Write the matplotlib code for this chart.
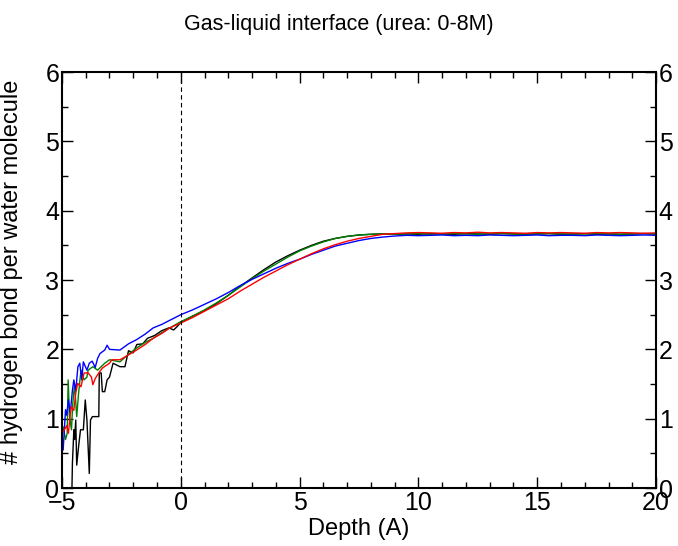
import matplotlib
matplotlib.use("Agg")
import matplotlib.pyplot as plt
from matplotlib.ticker import MultipleLocator

plt.rcParams['font.family'] = ['Liberation Sans', 'DejaVu Sans']

title = "Gas-liquid interface (urea: 0-8M)"
xlabel = "Depth (A)"
ylabel = "# hydrogen bond per water molecule"

plateau_x = [9.5, 10, 10.5, 11, 11.5, 12, 12.5, 13, 13.5, 14, 14.5, 15, 15.5, 16,
             16.5, 17, 17.5, 18, 18.5, 19, 19.5, 20]

# black series
black_x = [-4.58, -4.56, -4.5, -4.47, -4.42, -4.38, -4.3, -4.22, -4.1, -4.02, -3.95, -3.9,
           -3.85, -3.8, -3.72, -3.6, -3.45, -3.43, -3.35, -3.3, -3.2, -3.1, -3.0, -2.85,
           -2.56, -2.35, -2.2, -2.0, -1.85, -1.6, -1.4, -1.1, -0.8, -0.5, -0.3, -0.15, 0.0,
           0.5, 1.0, 1.5, 2.0, 2.5, 3.0, 3.5, 4.0, 4.5, 5.0, 5.5, 6.0, 6.5, 7.0, 7.5, 8.0, 8.5, 9.0] + plateau_x
black_y = [0.0, 0.36, 0.84, 0.7, 0.98, 0.33, 0.6, 0.84, 0.84, 1.27, 0.98, 0.6,
           0.21, 0.98, 1.03, 1.03, 1.03, 1.66, 1.66, 1.39, 1.39, 1.56, 1.6, 1.8,
           1.75, 1.75, 1.98, 1.95, 2.07, 2.08, 2.16, 2.2, 2.27, 2.31, 2.28, 2.33, 2.39,
           2.48, 2.56, 2.66, 2.78, 2.91, 3.03, 3.15, 3.26, 3.35, 3.43, 3.5, 3.56, 3.6, 3.63, 3.65, 3.66, 3.665, 3.66,
           3.665, 3.66, 3.67, 3.665, 3.66, 3.67, 3.665, 3.66, 3.67, 3.665, 3.66, 3.665, 3.67, 3.66, 3.665,
           3.67, 3.66, 3.665, 3.66, 3.665, 3.67, 3.665]

# green series
green_x = [-4.95, -4.85, -4.78, -4.74, -4.68, -4.6, -4.55, -4.47, -4.38, -4.3, -4.2, -4.07,
           -3.95, -3.9, -3.7, -3.5, -3.2, -3.0, -2.56, -2.2, -1.86, -1.5, -1.16, -0.8,
           -0.46, 0.0, 0.5, 1.0, 1.5, 2.0, 2.5, 3.0, 3.5, 4.0, 4.5, 5.0, 5.5, 6.0, 6.5,
           7.0, 7.5, 8.0, 8.5, 9.0] + plateau_x
green_y = [0.88, 0.7, 0.79, 1.56, 1.03, 0.84, 1.2, 1.5, 1.03, 1.37, 1.7, 1.56,
           1.6, 1.7, 1.75, 1.7, 1.8, 1.85, 1.82, 1.93, 2.02, 2.1, 2.16, 2.24,
           2.31, 2.40, 2.48, 2.57, 2.67, 2.78, 2.90, 3.02, 3.13, 3.23, 3.33, 3.42, 3.49, 3.55, 3.60,
           3.63, 3.65, 3.66, 3.665, 3.66,
           3.665, 3.67, 3.66, 3.665, 3.67, 3.665, 3.66, 3.665, 3.67, 3.665, 3.66, 3.665, 3.67, 3.665, 3.66,
           3.665, 3.67, 3.665, 3.66, 3.665, 3.67, 3.665]

# blue series
blue_x = [-4.95, -4.85, -4.8, -4.73, -4.65, -4.56, -4.5, -4.42, -4.33, -4.25, -4.17, -4.1,
          -3.95, -3.85, -3.73, -3.6, -3.5, -3.4, -3.2, -3.1, -3.0, -2.56, -2.2, -1.86,
          -1.5, -1.16, -0.8, -0.46, 0.0, 0.5, 1.0, 1.5, 2.0, 2.5, 3.0, 3.5, 4.0, 4.5,
          5.0, 5.5, 6.0, 6.5, 7.0, 7.5, 8.0, 8.5, 9.0] + plateau_x
blue_y = [0.55, 1.13, 1.05, 1.27, 1.08, 1.41, 1.56, 1.4, 1.75, 1.8, 1.56, 1.82,
          1.7, 1.8, 1.83, 1.74, 1.87, 1.94, 1.99, 2.06, 2.0, 1.99, 2.08, 2.14,
          2.22, 2.31, 2.36, 2.42, 2.50, 2.57, 2.65, 2.73, 2.82, 2.92, 3.01, 3.09, 3.17, 3.24,
          3.30, 3.37, 3.43, 3.49, 3.53, 3.57, 3.60, 3.62, 3.635,
          3.645, 3.64, 3.645, 3.65, 3.64, 3.645, 3.64, 3.65, 3.645, 3.64, 3.645, 3.65, 3.64, 3.645,
          3.645, 3.64, 3.65, 3.645, 3.64, 3.645, 3.65, 3.645]

# red series
red_x = [-5.0, -4.9, -4.8, -4.73, -4.62, -4.5, -4.42, -4.34, -4.2, -4.07, -3.9, -3.76,
         -3.7, -3.6, -3.45, -3.3, -3.0, -2.9, -2.56, -2.2, -1.86, -1.5, -1.16, -0.8,
         -0.46, 0.0, 0.5, 1.0, 1.5, 2.0, 2.5, 3.0, 3.5, 4.0, 4.5, 5.0, 5.5, 6.0, 6.5,
         7.0, 7.5, 8.0, 8.5, 9.0] + plateau_x
red_y = [0.79, 0.84, 0.9, 0.79, 1.17, 1.12, 1.37, 1.51, 1.46, 1.66, 1.66, 1.6,
         1.49, 1.58, 1.66, 1.73, 1.8, 1.85, 1.85, 1.92, 1.99, 2.07, 2.16, 2.23,
         2.31, 2.38, 2.46, 2.55, 2.64, 2.73, 2.84, 2.94, 3.04, 3.13, 3.22, 3.30, 3.38, 3.45, 3.51,
         3.56, 3.60, 3.63, 3.66, 3.67,
         3.68, 3.685, 3.68, 3.675, 3.685, 3.68, 3.69, 3.68, 3.685, 3.68, 3.675, 3.685, 3.68, 3.685,
         3.68, 3.675, 3.685, 3.68, 3.685, 3.68, 3.675, 3.68]

fig = plt.figure(figsize=(6.78, 5.46), dpi=100)
ax = fig.add_axes([0.0914, 0.1062, 0.8762, 0.7618])

ax.plot(black_x, black_y, color='black', lw=1.0)
ax.plot(green_x, green_y, color='green', lw=1.0)
ax.plot(blue_x, blue_y, color='blue', lw=1.0)
ax.plot(red_x, red_y, color='red', lw=1.0)
ax.axvline(0, color='black', lw=0.8, ls=(0, (4, 3)))

ax.set_xlim(-5, 20)
ax.set_ylim(0, 6)
ax.xaxis.set_major_locator(MultipleLocator(5))
ax.xaxis.set_minor_locator(MultipleLocator(1))
ax.yaxis.set_major_locator(MultipleLocator(1))
ax.yaxis.set_minor_locator(MultipleLocator(0.5))
ax.tick_params(which='both', direction='in', top=True, right=True,
               labelright=True, labelsize=18, width=1.0)
ax.tick_params(which='major', length=8, pad=2)
ax.tick_params(which='minor', length=4)
for s in ax.spines.values():
    s.set_linewidth(1.5)

ax.set_xlabel(xlabel, fontsize=17, labelpad=2)
ax.set_ylabel(ylabel, fontsize=17, labelpad=6)
ax.yaxis.set_label_coords(-0.065, 0.52)
fig.suptitle(title, fontsize=15.5, y=0.975)

fig.savefig("out.png", dpi=100)
